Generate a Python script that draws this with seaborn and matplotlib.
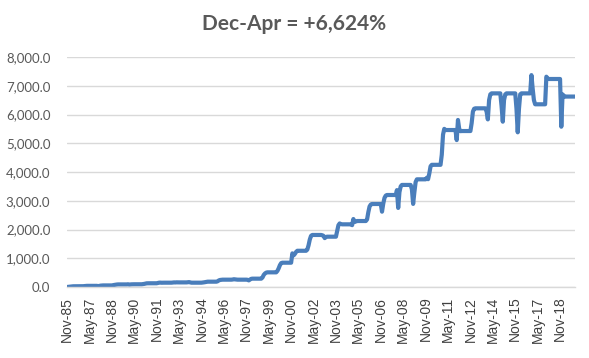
import numpy as np
import pandas as pd
import matplotlib
matplotlib.use("Agg")
import matplotlib.pyplot as plt
import seaborn as sns

# ---------------- data ----------------
title = "Dec-Apr = +6,624%"
start_label = "Nov-85"
start_value = 0.0

# each season runs Dec (year-1) .. Apr (year); value then holds May..Nov
season_end_years = list(range(1986, 2020))
dec_to_apr = [
    [5, 12, 18, 22, 25],            # 1986
    [28, 33, 38, 40, 40],           # 1987
    [30, 40, 48, 52, 55],           # 1988
    [62, 72, 80, 86, 90],           # 1989
    [95, 85, 90, 93, 95],           # 1990
    [100, 108, 120, 128, 130],      # 1991
    [140, 150, 152, 148, 150],      # 1992
    [155, 160, 158, 162, 160],      # 1993
    [165, 170, 160, 150, 150],      # 1994
    [155, 162, 170, 178, 185],      # 1995
    [200, 230, 245, 250, 255],      # 1996
    [260, 270, 265, 260, 255],      # 1997
    [250, 230, 260, 285, 290],      # 1998
    [330, 420, 470, 500, 510],      # 1999
    [560, 650, 760, 830, 845],      # 2000
    [1170, 1100, 1150, 1220, 1260], # 2001
    [1300, 1450, 1650, 1780, 1810], # 2002
    [1800, 1780, 1700, 1740, 1750], # 2003
    [1950, 2150, 2210, 2190, 2180], # 2004
    [2150, 2365, 2260, 2280, 2295], # 2005
    [2350, 2600, 2800, 2870, 2887], # 2006
    [2620, 2900, 3100, 3180, 3200], # 2007
    [3370, 2750, 3300, 3500, 3550], # 2008
    [3400, 2890, 3300, 3650, 3745], # 2009
    [3800, 3750, 3950, 4200, 4250], # 2010
    [4600, 5300, 5500, 5460, 5460], # 2011
    [5110, 5810, 5500, 5420, 5425], # 2012
    [5700, 6100, 6200, 6215, 6215], # 2013
    [6100, 5830, 6500, 6700, 6735], # 2014
    [6300, 5750, 6500, 6700, 6735], # 2015
    [6200, 5380, 6200, 6700, 6735], # 2016
    [7370, 6900, 6500, 6355, 6355], # 2017
    [7315, 7250, 7235, 7235, 7235], # 2018
    [5575, 6700, 6650, 6620, 6624], # 2019
]

tick_labels = ["Nov-85", "May-87", "Nov-88", "May-90", "Nov-91", "May-93",
               "Nov-94", "May-96", "Nov-97", "May-99", "Nov-00", "May-02",
               "Nov-03", "May-05", "Nov-06", "May-08", "Nov-09", "May-11",
               "Nov-12", "May-14", "Nov-15", "May-17", "Nov-18"]
y_ticks = [0, 1000, 2000, 3000, 4000, 5000, 6000, 7000, 8000]

# ---------------- build monthly series (step structure) ----------------
values = [start_value]
for season in dec_to_apr:
    values.extend(season)
    values.extend([season[-1]] * 7)   # May..Nov unchanged
df = pd.DataFrame({"month": np.arange(len(values)), "value": values})

# ---------------- plot ----------------
sns.set_style("white")
plt.rcParams["font.family"] = ["Lato", "DejaVu Sans"]

fig = plt.figure(figsize=(5.89, 3.58), dpi=100)
ax = fig.add_axes([67 / 589, 1 - 287 / 358, (575 - 67) / 589, (287 - 57) / 358])

sns.lineplot(data=df, x="month", y="value", ax=ax, color="#4A7EBB",
             linewidth=3.0, solid_joinstyle="round", solid_capstyle="round")

ax.set_xlim(0, len(values) - 1)
ax.set_ylim(0, 8000)
ax.set_yticks(y_ticks)
ax.set_yticklabels([f"{v:,.1f}" for v in y_ticks], fontsize=9.5, color="#595959")
ax.set_xticks(np.arange(0, len(values), 18)[:len(tick_labels)])
ax.set_xticklabels(tick_labels, rotation=90, fontsize=10, color="#404040",
                   family=["Liberation Sans", "DejaVu Sans"])
ax.set_xlabel("")
ax.set_ylabel("")

ax.yaxis.grid(True, color="#D9D9D9", linewidth=1.0)
ax.xaxis.grid(False)
ax.set_axisbelow(True)
for side in ["top", "right", "left"]:
    ax.spines[side].set_visible(False)
ax.spines["bottom"].set_color("#D9D9D9")
ax.spines["bottom"].set_linewidth(1.0)
ax.tick_params(axis="y", length=0, pad=12)
ax.tick_params(axis="x", length=4, width=1.0, color="#D9D9D9", pad=3)

fig.text(0.5, 1 - 24 / 358, title, ha="center", va="center", fontsize=15,
         fontweight="bold", color="#595959")

fig.savefig("out.png", dpi=100, facecolor="white")
